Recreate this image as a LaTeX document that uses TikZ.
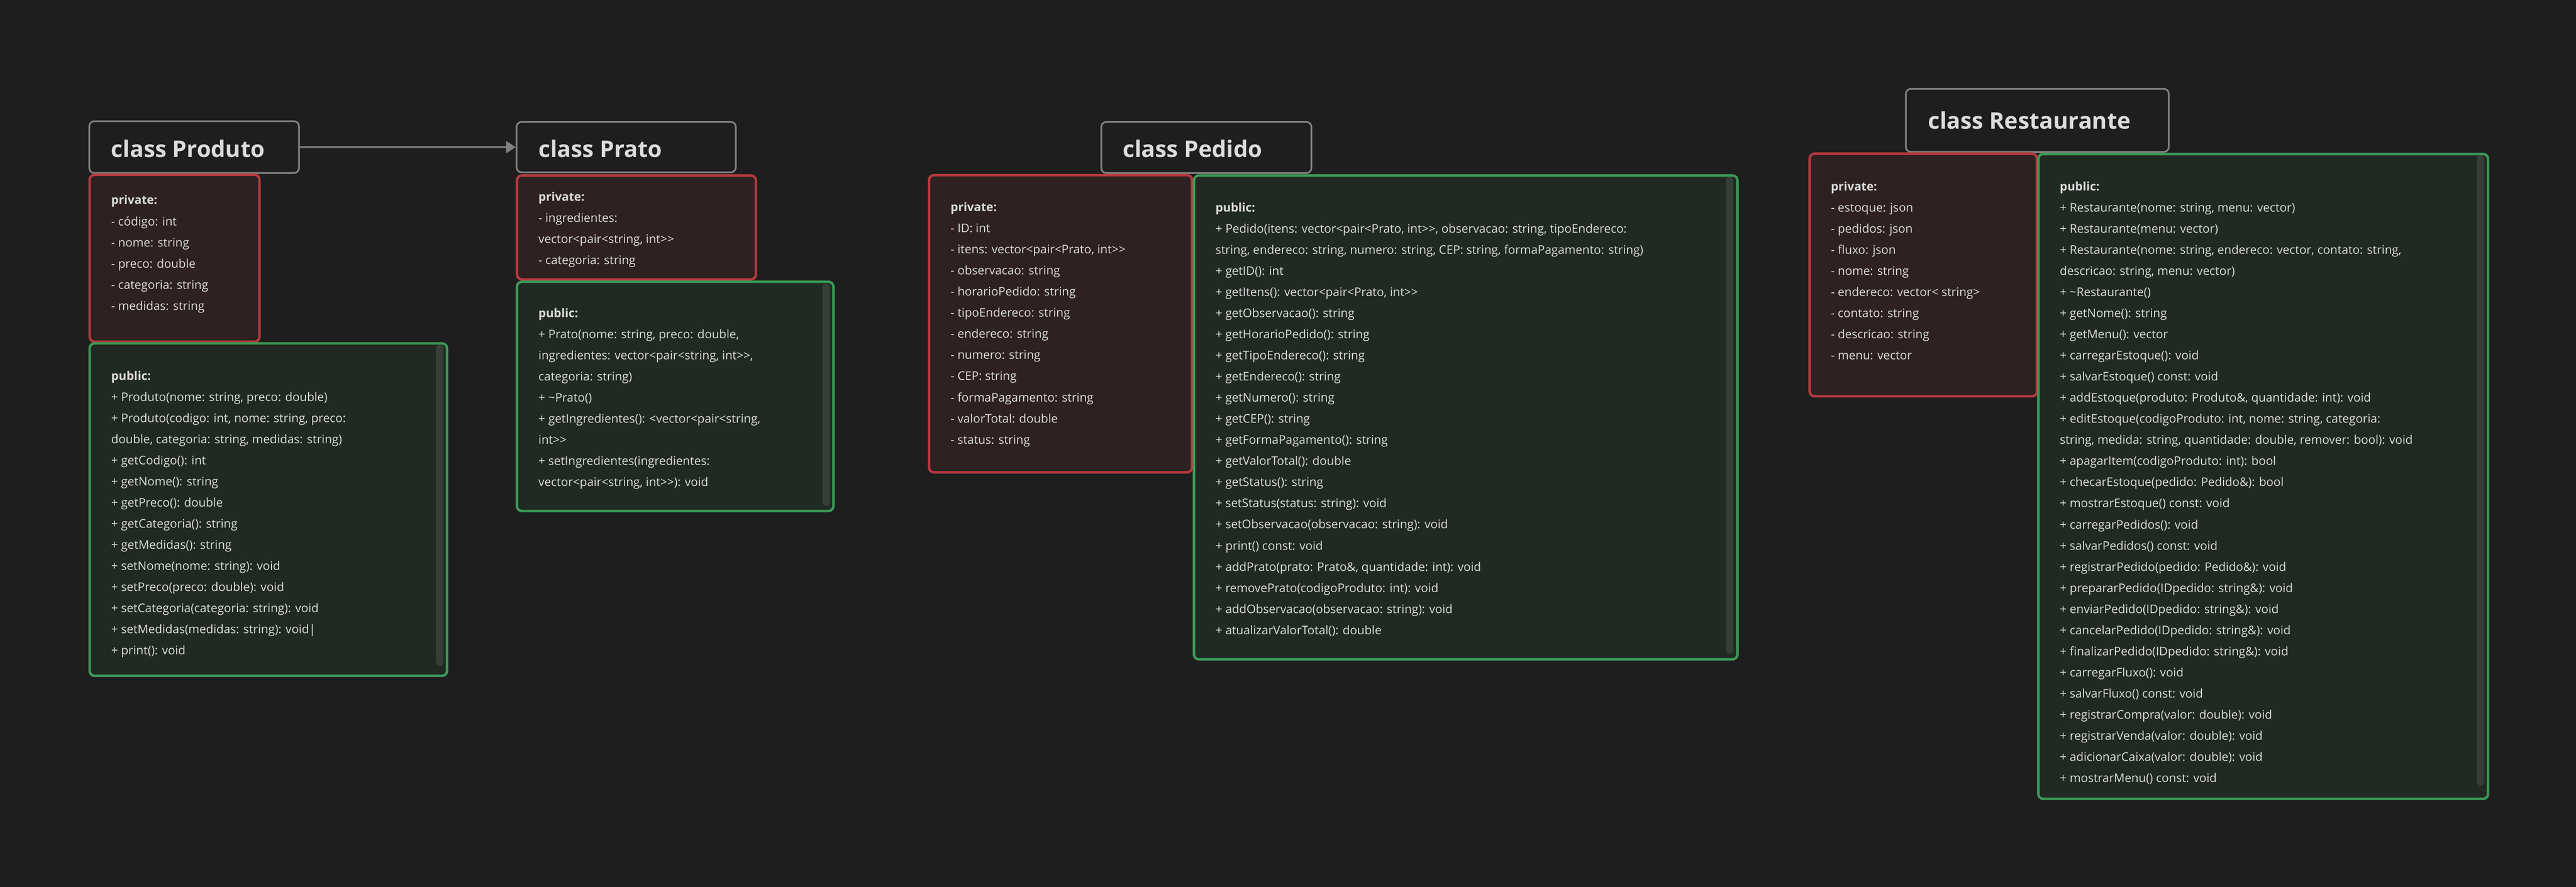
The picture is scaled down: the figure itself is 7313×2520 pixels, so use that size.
\documentclass[tikz,border=0pt]{standalone}
\usepackage{fontspec}
\setmainfont{Open Sans}[Ligatures=TeXOff]
\usetikzlibrary{arrows.meta}
\definecolor{bgcol}{HTML}{1E1E1E}
\definecolor{txtcol}{HTML}{DCDCDC}
\definecolor{ttlcol}{HTML}{808080}
\definecolor{privfill}{HTML}{2D2122}
\definecolor{privdraw}{HTML}{B5393E}
\definecolor{pubfill}{HTML}{212923}
\definecolor{pubdraw}{HTML}{3A9A56}
\definecolor{scrollcol}{HTML}{363E38}
\newcommand{\memstrut}{\rule{0pt}{8.5pt}}
\newcommand{\ttlstrut}{\rule{0pt}{14pt}}

\begin{document}
\begin{tikzpicture}[x=0.01cm,y=-0.01cm]
\fill[bgcol] (0,0) rectangle (7313,2520);
\useasboundingbox (0,0) rectangle (7313,2520);
\begin{scope}[every node/.style={rectangle,rounded corners=4pt,anchor=north west,
              draw=ttlcol,line width=1.4pt,fill=bgcol}]
    \node[minimum width=5.95cm,minimum height=1.47cm] (produto) at (251,342) {};
    \node[minimum width=6.22cm,minimum height=1.43cm] (prato) at (1464,344) {};
    \node[minimum width=5.96cm,minimum height=1.45cm] (pedido) at (3124,344) {};
    \node[minimum width=7.46cm,minimum height=1.79cm] (restaurante) at (5408,250) {};
\end{scope}
\begin{scope}[every node/.style={rectangle,rounded corners=4pt,anchor=north west,
              draw=privdraw,line width=2pt,fill=privfill}]
    \node[minimum width=4.82cm,minimum height=4.74cm] (produtoPriv) at (251,493) {};
    \node[minimum width=6.78cm,minimum height=2.95cm] (pratoPriv) at (1464,495) {};
    \node[minimum width=7.46cm,minimum height=8.44cm] (pedidoPriv) at (2634,494) {};
    \node[minimum width=6.45cm,minimum height=6.89cm] (restaurantePriv) at (5134,433) {};
\end{scope}
\begin{scope}[every node/.style={rectangle,rounded corners=4pt,anchor=north west,
              draw=pubdraw,line width=2pt,fill=pubfill}]
    \node[minimum width=10.14cm,minimum height=9.44cm] (produtoPub) at (251,972) {};
    \node[minimum width=8.98cm,minimum height=6.51cm] (pratoPub) at (1464,797) {};
    \node[minimum width=15.42cm,minimum height=13.74cm] (pedidoPub) at (3386,495) {};
    \node[minimum width=12.76cm,minimum height=18.31cm] (restaurantePub) at (5783,434) {};
\end{scope}
\begin{scope}[every node/.style={rectangle,rounded corners=3pt,anchor=north west,
              fill=scrollcol,minimum width=0.21cm,inner sep=0pt}]
    \node[minimum height=9.12cm] (produtoBar) at (1237,978) {};
    \node[minimum height=6.31cm] (pratoBar) at (2334,805) {};
    \node[minimum height=13.54cm] (pedidoBar) at (4899,502) {};
    \node[minimum height=17.90cm] (restauranteBar) at (7031,440) {};
\end{scope}
\begin{scope}[every node/.style={anchor=north west,inner sep=0pt,text=txtcol,
              font=\fontsize{18.5pt}{22pt}\selectfont\bfseries}]
    \node (produtoName) at (315,396) {\ttlstrut class Produto};
    \node (pratoName) at (1528,396) {\ttlstrut class Prato};
    \node (pedidoName) at (3187,396) {\ttlstrut class Pedido};
    \node (restauranteName) at (5473,316) {\ttlstrut class Restaurante};
\end{scope}
\begin{scope}[every node/.style={anchor=north west,inner sep=0pt,text=txtcol,align=left,
              font=\fontsize{9.6pt}{17.07pt}\selectfont}]
    \node (produtoAttr) at (315,550) {\memstrut\textbf{private:}\\
        - código: int\\
        - nome: string\\
        - preco: double\\
        - categoria: string\\
        - medidas: string};
    \node (produtoOps) at (315,1049) {\memstrut\textbf{public:}\\
        + Produto(nome: string, preco: double)\\
        + Produto(codigo: int, nome: string, preco:\\
        double, categoria: string, medidas: string)\\
        + getCodigo(): int\\
        + getNome(): string\\
        + getPreco(): double\\
        + getCategoria(): string\\
        + getMedidas(): string\\
        + setNome(nome: string): void\\
        + setPreco(preco: double): void\\
        + setCategoria(categoria: string): void\\
        + setMedidas(medidas: string): void|\\
        + print(): void};
    \node (pratoAttr) at (1528,540) {\memstrut\textbf{private:}\\
        - ingredientes:\\
        vector<pair<string, int>>\\
        - categoria: string};
    \node (pratoOps) at (1528,871) {\memstrut\textbf{public:}\\
        + Prato(nome: string, preco: double,\\
        ingredientes: vector<pair<string, int>>,\\
        categoria: string)\\
        + \textasciitilde Prato()\\
        + getIngredientes(): <vector<pair<string,\\
        int>>\\
        + setIngredientes(ingredientes:\\
        vector<pair<string, int>>): void};
    \node (pedidoAttr) at (2698,570) {\memstrut\textbf{private:}\\
        - ID: int\\
        - itens: vector<pair<Prato, int>>\\
        - observacao: string\\
        - horarioPedido: string\\
        - tipoEndereco: string\\
        - endereco: string\\
        - numero: string\\
        - CEP: string\\
        - formaPagamento: string\\
        - valorTotal: double\\
        - status: string};
    \node (pedidoOps) at (3450,571) {\memstrut\textbf{public:}\\
        + Pedido(itens: vector<pair<Prato, int>>, observacao: string, tipoEndereco:\\
        string, endereco: string, numero: string, CEP: string, formaPagamento: string)\\
        + getID(): int\\
        + getItens(): vector<pair<Prato, int>>\\
        + getObservacao(): string\\
        + getHorarioPedido(): string\\
        + getTipoEndereco(): string\\
        + getEndereco(): string\\
        + getNumero(): string\\
        + getCEP(): string\\
        + getFormaPagamento(): string\\
        + getValorTotal(): double\\
        + getStatus(): string\\
        + setStatus(status: string): void\\
        + setObservacao(observacao: string): void\\
        + print() const: void\\
        + addPrato(prato: Prato\&, quantidade: int): void\\
        + removePrato(codigoProduto: int): void\\
        + addObservacao(observacao: string): void\\
        + atualizarValorTotal(): double};
    \node (restauranteAttr) at (5197,511) {\memstrut\textbf{private:}\\
        - estoque: json\\
        - pedidos: json\\
        - fluxo: json\\
        - nome: string\\
        - endereco: vector< string>\\
        - contato: string\\
        - descricao: string\\
        - menu: vector};
    \node (restauranteOps) at (5847,511) {\memstrut\textbf{public:}\\
        + Restaurante(nome: string, menu: vector)\\
        + Restaurante(menu: vector)\\
        + Restaurante(nome: string, endereco: vector, contato: string,\\
        descricao: string, menu: vector)\\
        + \textasciitilde Restaurante()\\
        + getNome(): string\\
        + getMenu(): vector\\
        + carregarEstoque(): void\\
        + salvarEstoque() const: void\\
        + addEstoque(produto: Produto\&, quantidade: int): void\\
        + editEstoque(codigoProduto: int, nome: string, categoria:\\
        string, medida: string, quantidade: double, remover: bool): void\\
        + apagarItem(codigoProduto: int): bool\\
        + checarEstoque(pedido: Pedido\&): bool\\
        + mostrarEstoque() const: void\\
        + carregarPedidos(): void\\
        + salvarPedidos() const: void\\
        + registrarPedido(pedido: Pedido\&): void\\
        + prepararPedido(IDpedido: string\&): void\\
        + enviarPedido(IDpedido: string\&): void\\
        + cancelarPedido(IDpedido: string\&): void\\
        + finalizarPedido(IDpedido: string\&): void\\
        + carregarFluxo(): void\\
        + salvarFluxo() const: void\\
        + registrarCompra(valor: double): void\\
        + registrarVenda(valor: double): void\\
        + adicionarCaixa(valor: double): void\\
        + mostrarMenu() const: void};
\end{scope}
\begin{scope}[>={Triangle[length=7.7pt,width=9.7pt]},
              every edge/.style={draw=ttlcol,line width=1.4pt}]
    \path [->] (produto) edge (prato);
\end{scope}
\end{tikzpicture}
\end{document}
